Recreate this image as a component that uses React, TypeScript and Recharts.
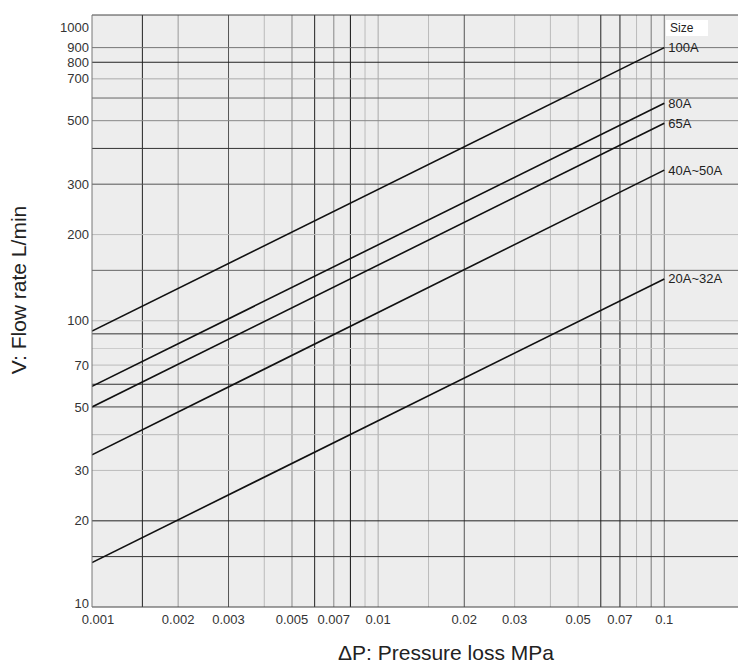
import React from 'react'
import { LineChart, Line, XAxis, YAxis, ReferenceLine, ReferenceArea } from 'recharts'

// pressure loss (MPa) at the two ends of every size line
const pressure = [0.001, 0.1]
// flow rate (L/min) read at 0.001 and 0.1 MPa
const flow100A = [92, 900]
const flow80A = [59, 575]
const flow65A = [50, 490]
const flow40A50A = [34, 336]
const flow20A32A = [14.3, 140]

const sizeNames = ['100A', '80A', '65A', '40A~50A', '20A~32A']
const sizeFlows = [flow100A, flow80A, flow65A, flow40A50A, flow20A32A]

const xTicks = [0.001, 0.002, 0.003, 0.005, 0.007, 0.01, 0.02, 0.03, 0.05, 0.07, 0.1]
const yTicks = [10, 20, 30, 50, 70, 100, 200, 300, 500, 700, 800, 900, 1000]

// grid lines of the paper and how dark each one is printed
const xGrid = [0.0015, 0.002, 0.003, 0.004, 0.005, 0.006, 0.007, 0.008, 0.009, 0.01, 0.015, 0.02, 0.03, 0.04, 0.05, 0.06, 0.07, 0.08, 0.09, 0.1]
const xGridColor = ['#222', '#999', '#555', '#bbb', '#888', '#222', '#888', '#111', '#bbb', '#aaa', '#bbb', '#555', '#bbb', '#bbb', '#bbb', '#222', '#222', '#bbb', '#777', '#777']
const yGrid = [15, 20, 30, 40, 50, 60, 70, 80, 90, 100, 150, 200, 300, 400, 500, 600, 700, 800, 900]
const yGridColor = ['#333', '#222', '#bbb', '#bbb', '#444', '#333', '#bbb', '#ccc', '#333', '#bbb', '#666', '#bbb', '#555', '#333', '#888', '#666', '#aaa', '#222', '#777']

const X_MIN = 0.001
const X_MAX = 0.181
const Y_MIN = 10
const Y_MAX = 1170

const makeData = (flow: number[]) => pressure.map((p, i) => ({ p, v: flow[i] }))

const endLabel = (name: string) => (props: any) => {
  if (props.index !== pressure.length - 1) return null
  return (
    <text x={props.x + 4} y={props.y} dominantBaseline="central" fontSize={13} fill="#222">
      {name}
    </text>
  )
}

const XTick = (props: any) => {
  const { x, y, payload, index } = props
  return (
    <text x={x + (index === 0 ? 6 : 0)} y={y} dy="0.71em" textAnchor="middle" fontSize={13} fill="#333">
      {payload.value}
    </text>
  )
}

const YTick = (props: any) => {
  const { x, y, payload, index } = props
  // end labels pulled in a little, like the printed chart
  let shift = 0
  if (index === 0) shift = -4
  if (index === yTicks.length - 1) shift = -7
  return (
    <text x={x} y={y + shift} dy="0.355em" textAnchor="end" fontSize={13} fill="#333">
      {payload.value}
    </text>
  )
}

export default function App() {
  return (
    <div style={{ position: 'absolute', left: 0, top: 0, fontFamily: 'Arial, "Liberation Sans", sans-serif' }}>
      <LineChart width={739} height={666} margin={{ top: 15, right: 1, bottom: 0, left: 0 }}>
        <XAxis
          dataKey="p"
          type="number"
          scale="log"
          domain={[X_MIN, X_MAX]}
          allowDataOverflow
          ticks={xTicks}
          tick={<XTick />}
          tickLine={false}
          height={59}
          stroke="#444"
          interval={0}
        />
        <YAxis
          dataKey="v"
          type="number"
          scale="log"
          domain={[Y_MIN, Y_MAX]}
          allowDataOverflow
          ticks={yTicks}
          tick={<YTick />}
          tickLine={false}
          tickSize={3}
          tickMargin={0}
          width={92}
          stroke="#777"
          interval={0}
        />
        <ReferenceArea x1={X_MIN} x2={X_MAX} y1={Y_MIN} y2={Y_MAX} fill="#ededed" fillOpacity={1} stroke="none" />
        {xGrid.map((g, i) => (
          <ReferenceLine key={'x' + g} x={g} stroke={xGridColor[i]} strokeWidth={1} />
        ))}
        {yGrid.map((g, i) => (
          <ReferenceLine key={'y' + g} y={g} stroke={yGridColor[i]} strokeWidth={1} />
        ))}
        <ReferenceLine y={Y_MAX} stroke="#444" strokeWidth={1} />
        {sizeFlows.map((flow, i) => (
          <Line
            key={sizeNames[i]}
            data={makeData(flow)}
            dataKey="v"
            stroke="#111"
            strokeWidth={1.6}
            dot={false}
            label={endLabel(sizeNames[i])}
            isAnimationActive={false}
          />
        ))}
        <text x={18} y={290} transform="rotate(-90 18 290)" textAnchor="middle" dominantBaseline="central" fontSize={21} fill="#222">
          V: Flow rate L/min
        </text>
        <text x={446} y={660} textAnchor="middle" fontSize={21} fill="#222">
          ΔP: Pressure loss MPa
        </text>
      </LineChart>
      <div
        style={{
          position: 'absolute',
          left: 666,
          top: 20,
          width: 42,
          height: 16,
          background: '#fff',
          fontSize: 12,
          lineHeight: '16px',
          paddingLeft: 4,
          boxSizing: 'border-box',
          color: '#222',
        }}
      >
        Size
      </div>
    </div>
  )
}
